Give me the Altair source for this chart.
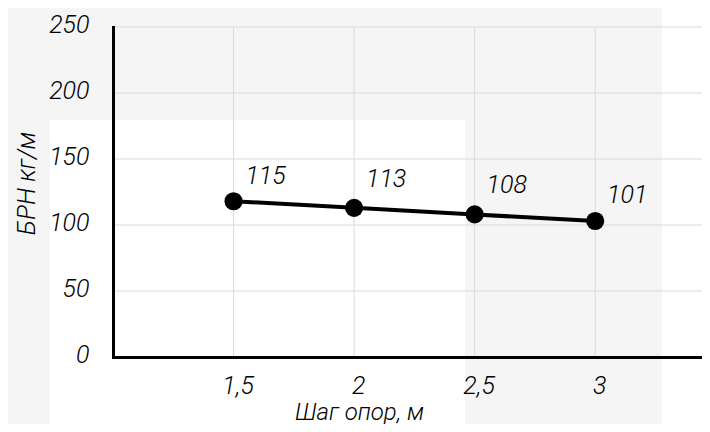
import altair as alt
import pandas as pd

# ---- data ----
steps = [1.5, 2.0, 2.5, 3.0]            # Шаг опор, м
brn = [118, 113, 108, 103]               # plotted point heights
label_text = ["115", "113", "108", "101"]  # data labels shown
label_val = [115, 113, 108, 101]
y_ticks = [0, 50, 100, 150, 200, 250]
x_ticks = [1.5, 2.0, 2.5, 3.0]
grid_y = [50, 100, 150, 200, 250]

df = pd.DataFrame({"step": steps, "brn": brn, "label": label_text, "lab": label_val})
gy = pd.DataFrame({"step": [1.5] * len(grid_y), "brn": grid_y})
gx = pd.DataFrame({"step": x_ticks, "brn": [0] * len(x_ticks)})
one = pd.DataFrame({"a": [0]})

FONT = "Roboto, DejaVu Sans Condensed, DejaVu Sans"
FW = 300
FS = 25
W, H = 589, 330
XMAX = 1 + W / 241.1

xs = alt.Scale(domain=[1, XMAX], nice=False, zero=False)
ys = alt.Scale(domain=[0, 250], nice=False)

x_axis = alt.Axis(
    values=x_ticks, grid=False, ticks=False, tickSize=0,
    domainColor="black", domainWidth=3, domainCap="square",
    labelExpr="replace(toString(datum.value), '.', ',')",
    labelFont=FONT, labelFontSize=FS, labelFontStyle="italic", labelFontWeight=FW,
    labelColor="black",
    labelPadding=28, labelBaseline="middle", labelOffset=4, labelFlush=False,
    title="Шаг опор, м", titleFont=FONT, titleFontSize=24, titleFontStyle="italic",
    titleFontWeight=FW, titleColor="black",
    titleX=246, titleY=55, titleAlign="center", titleBaseline="middle", titleAngle=0,
    zindex=1)
y_axis = alt.Axis(
    values=y_ticks, grid=False, ticks=False, tickSize=0,
    domainColor="black", domainWidth=3, domainCap="square",
    labelFont=FONT, labelFontSize=FS, labelFontStyle="italic", labelFontWeight=FW,
    labelColor="black",
    labelPadding=24, labelOffset=-3, labelFlush=False,
    title="БРН кг/м", titleFont=FONT, titleFontSize=FS, titleFontStyle="italic",
    titleFontWeight=FW, titleColor="black",
    titleX=-87, titleY=156, titleAlign="center", titleBaseline="middle", titleAngle=270,
    zindex=1)

X = alt.X("step:Q", scale=xs, axis=x_axis)
Y = alt.Y("brn:Q", scale=ys, axis=y_axis)

# decorative background patches (screenshot backdrop)
white_right = alt.Chart(one).mark_rect(color="white").encode(
    x=alt.value(549), x2=alt.value(600), y=alt.value(-19), y2=alt.value(400))
white_box = alt.Chart(one).mark_rect(color="white").encode(
    x=alt.value(-63), x2=alt.value(352), y=alt.value(93), y2=alt.value(400))

grid_h = alt.Chart(gy).mark_rule(color="#d9d9d9", strokeWidth=1).encode(y=Y)
grid_v = alt.Chart(gx).mark_rule(color="#d9d9d9", strokeWidth=1).encode(x=X)

base = alt.Chart(df)
line = base.mark_line(color="black", strokeWidth=4).encode(x=X, y=Y)
pts = base.mark_circle(size=330, color="black", opacity=1).encode(x=X, y=Y)
txt = base.mark_text(dx=32, dy=-29, font=FONT, fontSize=FS, fontStyle="italic",
                     fontWeight=FW, color="black", align="center",
                     baseline="middle").encode(
    x=X, y=alt.Y("lab:Q", scale=ys, axis=y_axis), text="label:N")

chart = alt.layer(white_right, white_box, grid_h, grid_v, line, pts, txt).properties(
    width=W, height=H,
    autosize=alt.AutoSizeParams(type="none"),
    padding={"left": 105, "top": 19, "right": 0, "bottom": 67},
    background="#f5f5f5",
).configure_view(strokeWidth=0)

chart.save("out.html", embed_options={"renderer": "svg", "actions": False})
